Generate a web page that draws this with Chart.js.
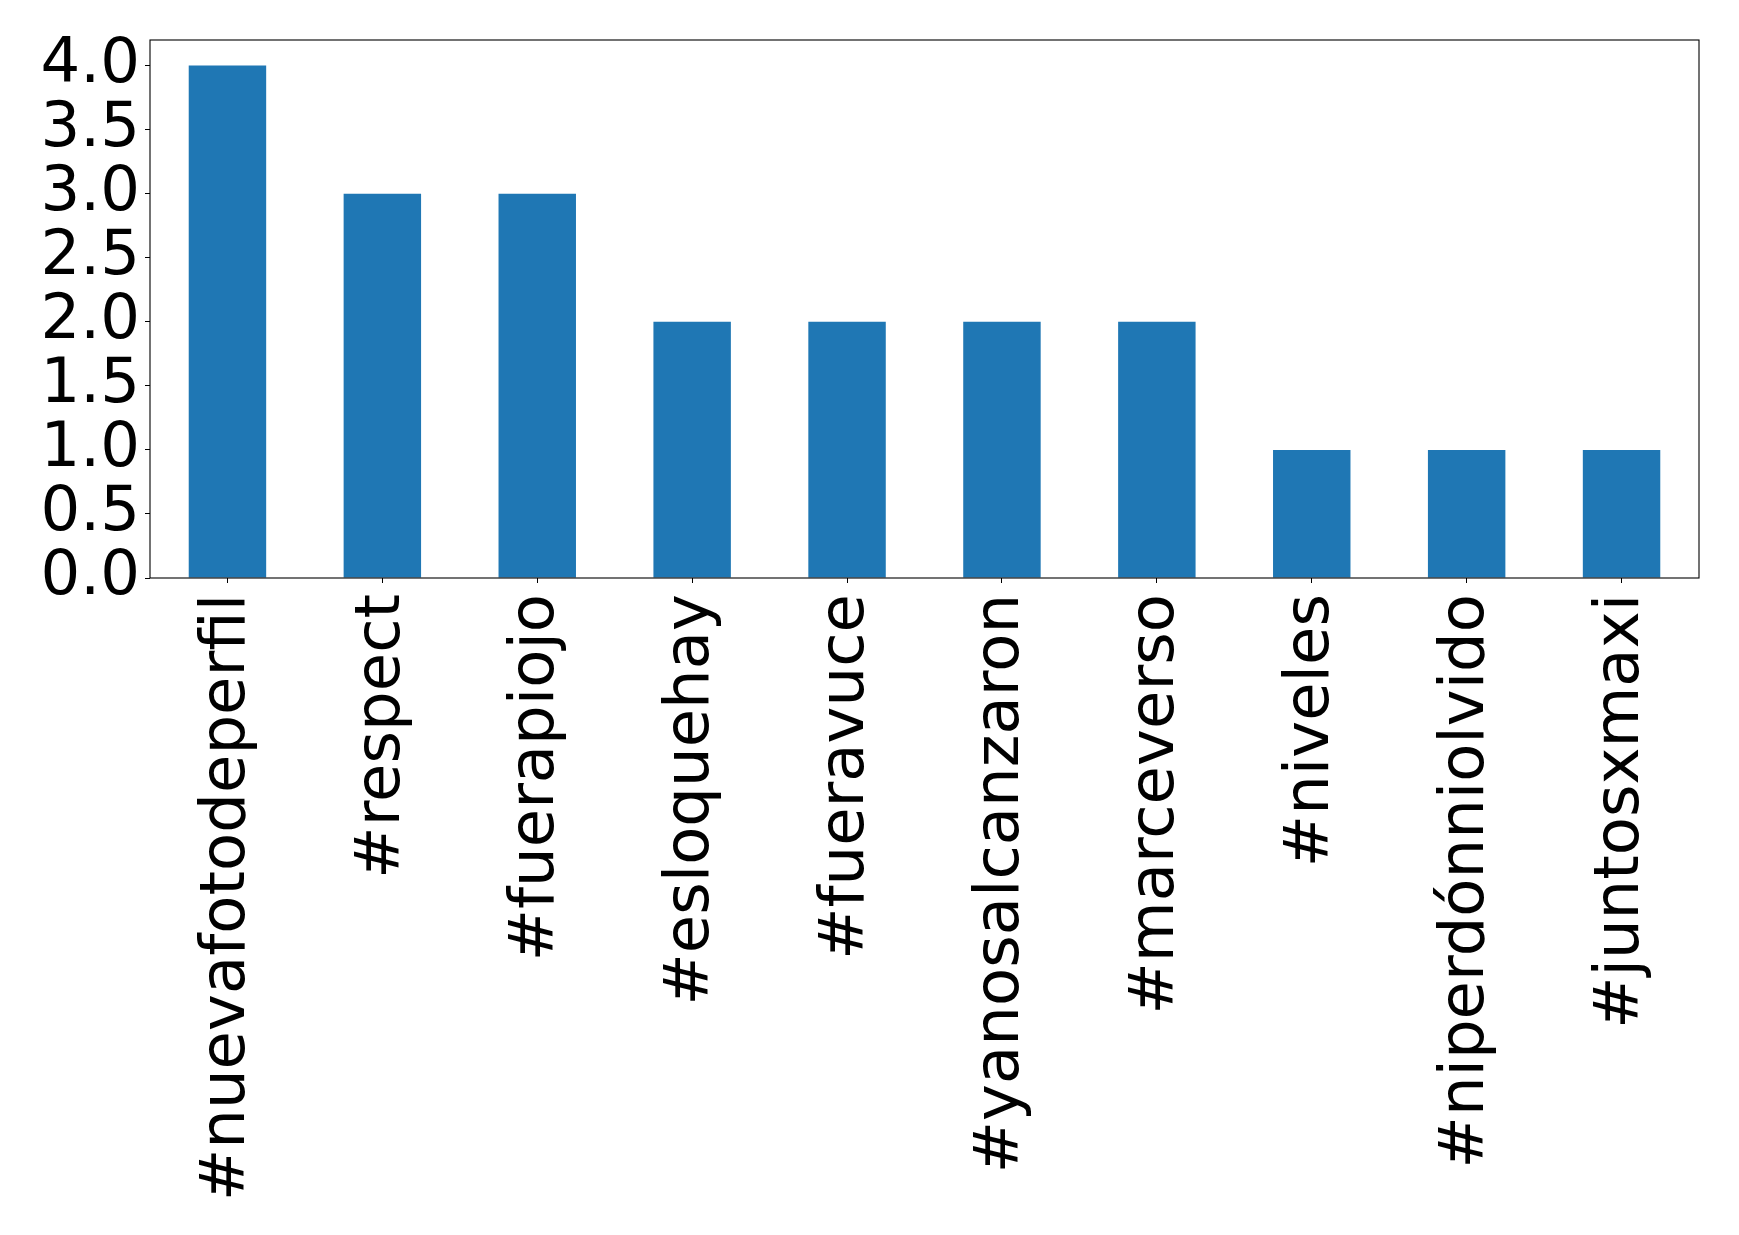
<!DOCTYPE html>
<html>
<head>
<meta charset="utf-8">
<script src="https://cdn.jsdelivr.net/npm/chart.js@4/dist/chart.umd.min.js"></script>
<style>
  body { margin: 0; background: #fff; }
</style>
</head>
<body>
<canvas id="chart" width="1739" height="1235"></canvas>
<script>
'use strict'

const hashtags = [
    '#nuevafotodeperfil',
    '#respect',
    '#fuerapiojo',
    '#esloquehay',
    '#fueravuce',
    '#yanosalcanzaron',
    '#marceverso',
    '#niveles',
    '#niperdónniolvido',
    '#juntosxmaxi'
]
const counts = [4, 3, 3, 2, 2, 2, 2, 1, 1, 1]
const yTicks = [0, 0.5, 1, 1.5, 2, 2.5, 3, 3.5, 4]

const ctx = document.querySelector('#chart').getContext('2d')
const font = { family: 'DejaVu Sans', size: 62.5, lineHeight: 1 }

// matplotlib style box round the axes
const frame = {
    id: 'frame',
    afterDraw: chart => {
        const { ctx, chartArea: a } = chart
        ctx.save()
        ctx.strokeStyle = '#000'
        ctx.lineWidth = 1.1
        ctx.strokeRect(a.left, a.top, a.right - a.left, a.bottom - a.top)
        ctx.restore()
    }
}

const chart = new Chart(ctx, {
    type: 'bar',
    data: {
        labels: hashtags,
        datasets: [{
            data: counts,
            backgroundColor: '#1f77b4',
            categoryPercentage: 1,
            barPercentage: 0.5
        }]
    },
    options: {
        responsive: false,
        animation: false,
        layout: { padding: { top: 40, right: 40, left: 0, bottom: 0 } },
        plugins: { legend: { display: false }, tooltip: { enabled: false } },
        scales: {
            x: {
                afterFit: s => { s.height = 657 },
                border: { display: false },
                grid: { drawOnChartArea: false, drawTicks: true, tickLength: 5, color: '#000', offset: false },
                ticks: { color: '#000', font, padding: 11, minRotation: 90, maxRotation: 90, autoSkip: false }
            },
            y: {
                min: 0,
                max: 4.2,
                afterFit: s => { s.width = 150 },
                afterBuildTicks: s => { s.ticks = yTicks.map(v => ({ value: v })) },
                border: { display: false },
                grid: { drawOnChartArea: false, drawTicks: true, tickLength: 5, color: '#000' },
                ticks: { color: '#000', font, padding: 5, autoSkip: false, callback: v => v.toFixed(1) }
            }
        }
    },
    plugins: [frame]
})
</script>
</body>
</html>
